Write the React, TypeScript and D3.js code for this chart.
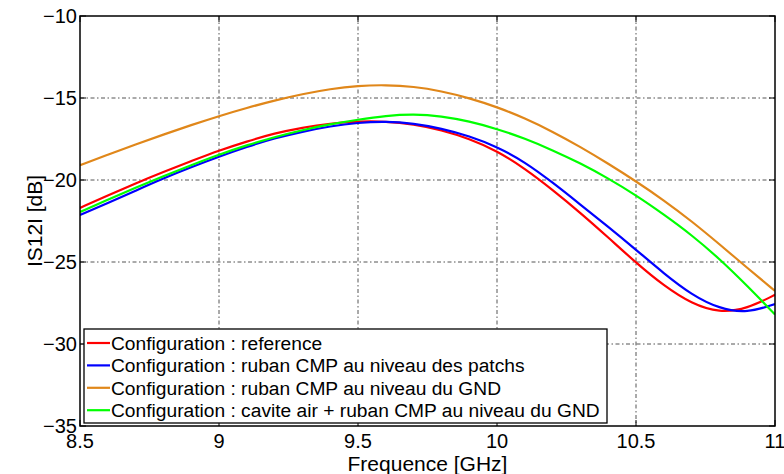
import * as d3 from "d3"

// frequency grid (GHz)
const freqs = [
  8.5, 8.6, 8.7, 8.8, 8.9, 9.0, 9.1, 9.2, 9.3, 9.4, 9.5, 9.6, 9.7, 9.8, 9.9, 10.0, 10.1, 10.2, 10.3,
  10.4, 10.5, 10.6, 10.7, 10.8, 10.9, 11.0,
]

const refValues = [
  -21.7, -20.95, -20.2, -19.5, -18.85, -18.2, -17.65, -17.15, -16.8, -16.55, -16.42, -16.42, -16.6,
  -16.95, -17.48, -18.22, -19.3, -20.6, -22.0, -23.5, -25.05, -26.45, -27.55, -28.1, -27.85, -27.0,
]
const patchValues = [
  -22.13, -21.4, -20.65, -19.9, -19.22, -18.58, -17.98, -17.45, -17.05, -16.72, -16.5, -16.42, -16.55,
  -16.85, -17.32, -17.97, -18.9, -20.15, -21.5, -22.85, -24.25, -25.7, -27.0, -27.85, -28.12, -27.56,
]
const gndValues = [
  -19.1, -18.45, -17.83, -17.23, -16.65, -16.1, -15.6, -15.15, -14.76, -14.45, -14.25, -14.2, -14.3,
  -14.58, -15.0, -15.55, -16.23, -17.05, -17.98, -19.0, -20.08, -21.23, -22.51, -23.91, -25.36, -26.76,
]
const caviteValues = [
  -21.95, -21.2, -20.47, -19.77, -19.1, -18.45, -17.88, -17.38, -16.95, -16.6, -16.32, -16.08, -15.98,
  -16.1, -16.42, -16.88, -17.47, -18.18, -18.98, -19.9, -20.93, -22.1, -23.35, -24.8, -26.45, -28.2,
]

const seriesNames = [
  "Configuration : reference",
  "Configuration : ruban CMP au niveau des patchs",
  "Configuration : ruban CMP au niveau du GND",
  "Configuration : cavite air + ruban CMP au niveau du GND",
]
const seriesColors = ["#ff0000", "#0000ff", "#e0871a", "#00ff00"]
const seriesValues = [refValues, patchValues, gndValues, caviteValues]

const xTicks = [8.5, 9, 9.5, 10, 10.5, 11]
const yTicks = [-35, -30, -25, -20, -15, -10]

const width = 784
const height = 474
const margin = { top: 16, right: 9, bottom: 48, left: 80 }
const font = "'Liberation Sans', Arial, Helvetica, sans-serif"

export default function App() {
  const xScale = d3
    .scaleLinear()
    .domain([8.5, 11])
    .range([margin.left, width - margin.right])
  const yScale = d3
    .scaleLinear()
    .domain([-35, -10])
    .range([height - margin.bottom, margin.top])

  const [x0, x1] = xScale.range()
  const [y0, y1] = yScale.range()

  const line = d3
    .line<[number, number]>()
    .x((d) => xScale(d[0]))
    .y((d) => yScale(d[1]))
    .curve(d3.curveBasis)

  const legend = { x: 84, y: 329, w: 523, h: 94, row: 22.4 }

  return (
    <svg
      width={width}
      height={height}
      style={{ position: "absolute", left: 0, top: 0, background: "white" }}
    >
      <defs>
        <clipPath id="plot">
          <rect x={x0} y={y1} width={x1 - x0} height={y0 - y1} />
        </clipPath>
      </defs>
      <rect x={0} y={0} width={width} height={height} fill="white" />

      {/* grid */}
      {xTicks.slice(1, -1).map((t, i) => (
        <line
          key={"gx" + i}
          x1={xScale(t)}
          x2={xScale(t)}
          y1={y1}
          y2={y0}
          stroke="#555"
          strokeWidth={1}
          strokeDasharray="4,2.5,1.5,2.5"
        />
      ))}
      {yTicks.slice(1, -1).map((t, i) => (
        <line
          key={"gy" + i}
          x1={x0}
          x2={x1}
          y1={yScale(t)}
          y2={yScale(t)}
          stroke="#555"
          strokeWidth={1}
          strokeDasharray="4,2.5,1.5,2.5"
        />
      ))}

      {/* curves */}
      <g clipPath="url(#plot)">
        {seriesValues.map((vals, i) => (
          <path
            key={"s" + i}
            d={line(freqs.map((f, j) => [f, vals[j]] as [number, number])) ?? ""}
            fill="none"
            stroke={seriesColors[i]}
            strokeWidth={2.2}
          />
        ))}
      </g>

      {/* ticks */}
      {xTicks.map((t, i) => (
        <g key={"tx" + i}>
          <line x1={xScale(t)} x2={xScale(t)} y1={y0} y2={y0 - 6} stroke="black" />
          <line x1={xScale(t)} x2={xScale(t)} y1={y1} y2={y1 + 6} stroke="black" />
          <text
            x={xScale(t)}
            y={y0 + 22}
            textAnchor="middle"
            fontFamily={font}
            fontSize={20}
          >
            {t}
          </text>
        </g>
      ))}
      {yTicks.map((t, i) => (
        <g key={"ty" + i}>
          <line x1={x0} x2={x0 + 6} y1={yScale(t)} y2={yScale(t)} stroke="black" />
          <line x1={x1} x2={x1 - 6} y1={yScale(t)} y2={yScale(t)} stroke="black" />
          <text
            x={x0 - 3}
            y={yScale(t)}
            dy="0.36em"
            textAnchor="end"
            fontFamily={font}
            fontSize={20}
          >
            {t < 0 ? "\u2212" + Math.abs(t) : t}
          </text>
        </g>
      ))}

      {/* frame */}
      <rect x={x0} y={y1} width={x1 - x0} height={y0 - y1} fill="none" stroke="black" strokeWidth={1.5} />

      {/* axis labels */}
      <text
        x={(x0 + x1) / 2}
        y={height - 3}
        textAnchor="middle"
        fontFamily={font}
        fontSize={21}
      >
        Frequence [GHz]
      </text>
      <text
        transform={`translate(42, ${(y0 + y1) / 2}) rotate(-90)`}
        textAnchor="middle"
        fontFamily={font}
        fontSize={21}
      >
        IS12I [dB]
      </text>

      {/* legend */}
      <g>
        <rect
          x={legend.x}
          y={legend.y}
          width={legend.w}
          height={legend.h}
          fill="white"
          stroke="black"
          strokeWidth={1.3}
        />
        {seriesNames.map((name, i) => {
          const cy = legend.y + 14 + i * legend.row
          return (
            <g key={"lg" + i}>
              <line x1={legend.x + 3} x2={legend.x + 26} y1={cy} y2={cy} stroke={seriesColors[i]} strokeWidth={2.2} />
              <text x={legend.x + 27} y={cy} dy="0.35em" fontFamily={font} fontSize={19.2}>
                {name}
              </text>
            </g>
          )
        })}
      </g>
    </svg>
  )
}
